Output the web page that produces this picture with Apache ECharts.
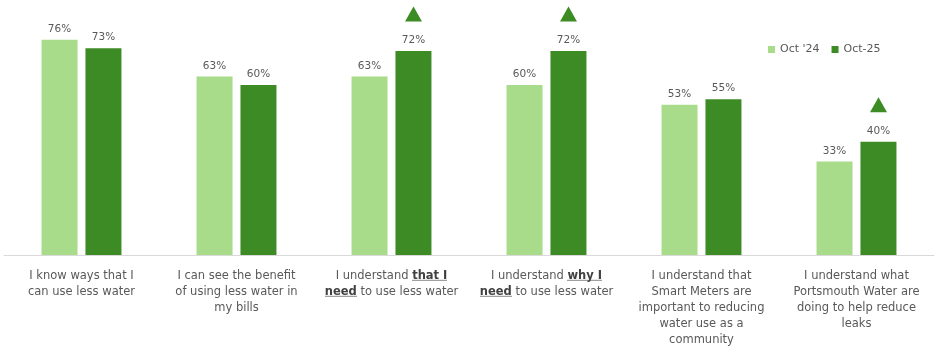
<!DOCTYPE html>
<html>
<head>
<meta charset="utf-8">
<script src="https://cdn.jsdelivr.net/npm/echarts@6/dist/echarts.min.js"></script>
<style>
  html, body { margin: 0; padding: 0; background: #fff; }
  #chart { width: 939px; height: 350px; }
</style>
</head>
<body>
<div id="chart"></div>
<script>
// Statements shown along the category axis (rich-text tags mark emphasised words)
const categories = [
  'I know ways that I\ncan use less water',
  'I can see the benefit\nof using less water in\nmy bills',
  'I understand {u|that I}\n{u|need} to use less water',
  'I understand {u|why I}\n{u|need} to use less water',
  'I understand that\nSmart Meters are\nimportant to reducing\nwater use as a\ncommunity',
  'I understand what\nPortsmouth Water are\ndoing to help reduce\nleaks'
];
const seriesNames = ["Oct '24", 'Oct-25'];
const oct24 = [76, 63, 63, 60, 53, 33];
const oct25 = [73, 60, 72, 72, 55, 40];
// Significant increase flags for Oct-25 vs Oct '24
const sigUp = [false, false, true, true, false, true];

const LIGHT = '#a8dc8a';
const DARK = '#3d8b25';
const TEXT = '#595959';
const FONT = "'DejaVu Sans', 'Noto Sans', sans-serif";
const LINE_H = 16;
const AXIS_FS = 11.5;

// A tiny canvas with a single dark row near the bottom; stretched behind a
// rich-text fragment it acts as an underline.
function underlineImage() {
  const c = document.createElement('canvas');
  c.width = 1; c.height = LINE_H;
  const ctx = c.getContext('2d');
  ctx.fillStyle = '#404040';
  ctx.fillRect(0, 13, 1, 1);
  return c;
}

const chart = echarts.init(document.getElementById('chart'));
chart.setOption({
  animation: false,
  textStyle: { fontFamily: FONT },
  legend: {
    data: seriesNames,
    left: 763, top: 39,
    itemWidth: 7, itemHeight: 7, itemGap: 12,
    icon: 'rect',
    textStyle: { color: TEXT, fontSize: 11, fontFamily: FONT }
  },
  grid: { left: 4, right: 5, top: 0, bottom: 95, containLabel: false },
  xAxis: {
    type: 'category',
    data: categories,
    axisLine: { lineStyle: { color: '#d9d9d9', width: 1 } },
    axisTick: { show: false },
    axisLabel: {
      interval: 0,
      margin: 13,
      color: TEXT,
      fontSize: AXIS_FS,
      lineHeight: LINE_H,
      fontFamily: FONT,
      rich: {
        u: {
          fontWeight: 'bold', color: '#404040', fontSize: AXIS_FS, lineHeight: LINE_H,
          fontFamily: FONT,
          backgroundColor: { image: underlineImage() }
        }
      }
    }
  },
  yAxis: {
    type: 'value', min: 0, max: 90,
    show: false,
    splitLine: { show: false }
  },
  series: [
    {
      name: seriesNames[0], type: 'bar', data: oct24,
      barWidth: 36, barGap: '22%',
      itemStyle: { color: LIGHT },
      label: { show: true, position: 'top', distance: 5, formatter: '{c}%', color: TEXT, fontSize: 10.5, fontFamily: FONT }
    },
    {
      name: seriesNames[1], type: 'bar', data: oct25,
      barWidth: 36,
      itemStyle: { color: DARK },
      label: { show: true, position: 'top', distance: 5, formatter: '{c}%', color: TEXT, fontSize: 10.5, fontFamily: FONT }
    },
    {
      // significance markers above the Oct-25 bars
      name: 'sig', type: 'scatter',
      data: oct25.map((v, i) => sigUp[i] ? v : null),
      symbol: 'triangle', symbolSize: [17, 15], symbolOffset: [22, -37],
      itemStyle: { color: DARK, opacity: 1 },
      silent: true, z: 5
    }
  ]
});
</script>
</body>
</html>
